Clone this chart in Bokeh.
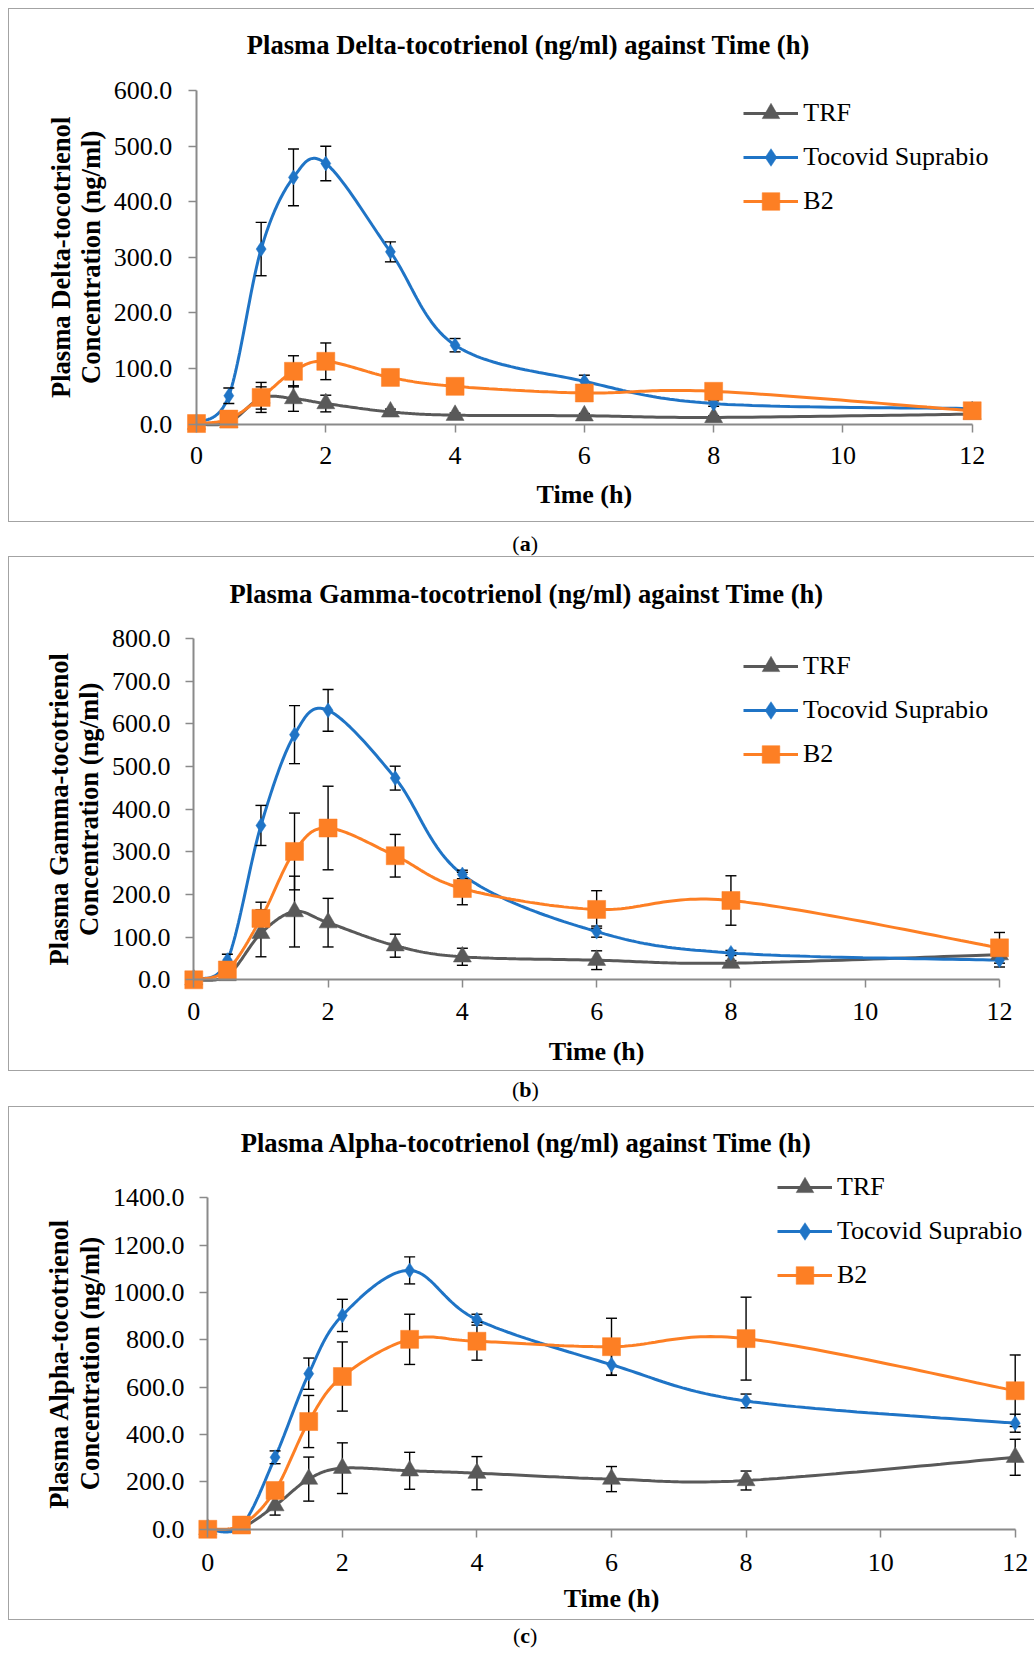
import numpy as np
from bokeh.plotting import figure
from bokeh.models import (ColumnDataSource, FixedTicker, Legend, LegendItem, Range1d, LinearAxis, Spacer)
from bokeh.core.properties import value
from bokeh.layouts import column, row
from bokeh.embed import file_html
from bokeh.resources import INLINE

# ---------------- data ----------------
times = [0, 0.5, 1, 1.5, 2, 3, 4, 6, 8, 12]
series_names = ["TRF", "Tocovid Suprabio", "B2"]
x_ticks = [0, 2, 4, 6, 8, 10, 12]
x_tick_labels = ["0", "2", "4", "6", "8", "10", "12"]

# (a) Delta-tocotrienol
delta_trf = [0, 3, 47, 46, 37, 22, 16, 15, 12, 18]
delta_trf_err = [0, 2, 20, 23, 15, 5, 4, 4, 3, 3]
delta_toco = [2, 51, 315, 444, 469, 310, 142, 77, 37, 28]
delta_toco_err = [0, 14, 48, 51, 31, 18, 12, 11, 5, 4]
delta_b2 = [1, 9, 48, 95, 113, 84, 68, 56, 59, 24]
delta_b2_err = [0, 5, 27, 28, 33, 6, 6, 6, 8, 5]
delta_yticks = [0, 100, 200, 300, 400, 500, 600]
delta_ytick_labels = ["0.0", "100.0", "200.0", "300.0", "400.0", "500.0", "600.0"]

# (b) Gamma-tocotrienol
gamma_trf = [0, 10, 109, 160, 134, 80, 54, 46, 39, 59]
gamma_trf_err = [0, 5, 55, 83, 57, 27, 20, 22, 6, 8]
gamma_toco = [2, 46, 362, 575, 632, 473, 247, 113, 63, 46]
gamma_toco_err = [0, 14, 47, 68, 49, 28, 10, 13, 6, 16]
gamma_b2 = [0, 23, 144, 301, 356, 291, 214, 165, 186, 75]
gamma_b2_err = [0, 8, 38, 90, 98, 50, 38, 44, 58, 36]
gamma_yticks = [0, 100, 200, 300, 400, 500, 600, 700, 800]
gamma_ytick_labels = ["0.0", "100.0", "200.0", "300.0", "400.0", "500.0", "600.0", "700.0", "800.0"]

# (c) Alpha-tocotrienol
alpha_trf = [0, 8, 100, 212, 258, 247, 237, 212, 206, 304]
alpha_trf_err = [0, 5, 40, 93, 107, 78, 70, 53, 40, 76]
alpha_toco = [0, 15, 304, 657, 903, 1093, 885, 695, 542, 448]
alpha_toco_err = [0, 5, 27, 66, 68, 57, 23, 45, 29, 38]
alpha_b2 = [0, 18, 164, 455, 645, 802, 794, 771, 805, 585]
alpha_b2_err = [0, 8, 15, 110, 146, 106, 80, 120, 175, 151]
alpha_yticks = [0, 200, 400, 600, 800, 1000, 1200, 1400]
alpha_ytick_labels = ["0.0", "200.0", "400.0", "600.0", "800.0", "1000.0", "1200.0", "1400.0"]

# ---------------- style ----------------
FONT = "Liberation Serif"
COLORS = ["#595959", "#1f74c6", "#fd7f24"]
MARKERS = [("triangle", 18), ("diamond", 15), ("square", 18)]
AXIS_COLOR = "#8a8a8a"
BOX_COLOR = "#a3a3a3"
ORIGIN_X, ORIGIN_Y = 8, 8      # content offset on the page (spacers)
FIG_W = 1026
TOP_PAD, RIGHT_PAD = 4, 4


def smooth(xs, ys, n=30):
    """Excel-like smoothed line: Catmull-Rom Bezier through the data points."""
    P = np.column_stack([xs, ys]).astype(float)
    m = len(P)
    ox, oy = [P[0, 0]], [P[0, 1]]
    t = np.linspace(0, 1, n + 1)[1:, None]
    for i in range(m - 1):
        p0 = P[i - 1] if i > 0 else P[i]
        p1, p2 = P[i], P[i + 1]
        p3 = P[i + 2] if i + 2 < m else P[i + 1]
        c1 = p1 + (p2 - p0) / 6.0
        c2 = p2 - (p3 - p1) / 6.0
        b = (1 - t) ** 3 * p1 + 3 * (1 - t) ** 2 * t * c1 + 3 * (1 - t) * t ** 2 * c2 + t ** 3 * p2
        ox.extend(b[:, 0])
        oy.extend(b[:, 1])
    return ox, oy


def txt(p, x, y, text, size="26px", bold=False, align="center", baseline="middle",
        xo=0, yo=0, angle=0):
    p.text(x=x, y=y, text=text, x_offset=xo, y_offset=yo, angle=angle,
           text_font=value(FONT), text_font_size=value(size),
           text_font_style=value("bold" if bold else "normal"),
           text_color="black", text_align=align, text_baseline=baseline)


def make_panel(title, ylabel_lines, yticks, ytick_labels, values, errors, g):
    ymax = yticks[-1]
    fig_top, fig_h = g["fig_top"], g["fig_h"]
    L = ORIGIN_X
    R = ORIGIN_X + FIG_W - RIGHT_PAD
    T = fig_top + TOP_PAD
    B = fig_top + fig_h
    xppu = (g["x12"] - g["x0"]) / 12.0
    yppu = (g["y0"] - g["ytop"]) / float(ymax)
    x_range = Range1d(-(g["x0"] - L) / xppu, 12 + (R - g["x12"]) / xppu)
    y_range = Range1d(-(B - g["y0"]) / yppu, ymax + (g["ytop"] - T) / yppu)

    p = figure(width=FIG_W, height=fig_h, x_range=x_range, y_range=y_range,
               output_backend="svg", toolbar_location=None,
               x_axis_location=None, y_axis_location=None,
               min_border_left=0, min_border_bottom=0,
               min_border_top=TOP_PAD, min_border_right=RIGHT_PAD,
               background_fill_color=None, border_fill_color=None,
               styles={"box-shadow": (f"inset 1px 0 0 {BOX_COLOR}, inset 0 1px 0 {BOX_COLOR}, "
                                      f"inset 0 -1px 0 {BOX_COLOR}")})
    p.outline_line_color = None
    p.xgrid.grid_line_color = None
    p.ygrid.grid_line_color = None

    # axes drawn at the data origin; ticks pointing outward from the plot
    xaxis = LinearAxis(ticker=FixedTicker(ticks=x_ticks), bounds=(0, 12), fixed_location=0)
    yaxis = LinearAxis(ticker=FixedTicker(ticks=yticks), bounds=(0, ymax), fixed_location=0)
    for ax in (xaxis, yaxis):
        ax.axis_line_color = AXIS_COLOR
        ax.axis_line_width = 2
        ax.major_tick_line_color = AXIS_COLOR
        ax.major_tick_line_width = 1.5
        ax.major_tick_in = 8
        ax.major_tick_out = 0
        ax.minor_tick_line_color = None
        ax.major_label_text_font_size = "0px"
        ax.major_label_text_alpha = 0
        ax.major_label_standoff = 0
    p.add_layout(xaxis, "above")
    p.add_layout(yaxis, "right")

    # tick labels, axis titles and chart title
    txt(p, x_ticks, [0] * len(x_ticks), x_tick_labels, yo=g["xtick_dy"])
    txt(p, [0] * len(yticks), yticks, ytick_labels, align="right", xo=g["ytick_dx"])
    txt(p, [0, 0], [ymax / 2.0] * 2, ylabel_lines, size="26.6px", bold=True,
        xo=g["ytitle_dx"], angle=np.pi / 2)
    txt(p, [6], [0], ["Time (h)"], bold=True, yo=g["xtitle_dy"])
    txt(p, [0], [ymax], [title], size="26.6px", bold=True, xo=g["title_dx"], yo=g["title_dy"])

    line_rs, marker_rs = [], []
    for k in range(3):
        sx, sy = smooth(times, values[k])
        line_rs.append(p.line(sx, sy, line_color=COLORS[k], line_width=3))
    for k in range(3):
        keep = [i for i, e in enumerate(errors[k]) if e > 0]
        src = ColumnDataSource(dict(x=[times[i] for i in keep],
                                    lo=[values[k][i] - errors[k][i] for i in keep],
                                    hi=[values[k][i] + errors[k][i] for i in keep]))
        p.segment(x0="x", y0="lo", x1="x", y1="hi", source=src, line_color="black", line_width=1.4)
        p.scatter(x="x", y="lo", source=src, marker="dash", size=11, line_color="black", line_width=1.4)
        p.scatter(x="x", y="hi", source=src, marker="dash", size=11, line_color="black", line_width=1.4)
    for k in range(3):
        mk, sz = MARKERS[k]
        marker_rs.append(p.scatter(times, values[k], marker=mk, size=sz,
                                   fill_color=COLORS[k], line_color=COLORS[k], line_width=0.5))

    lx = g["legend_left"] - L
    ly = B - (g["legend_mid"] + 66)
    legend = Legend(items=[LegendItem(label=series_names[k], renderers=[line_rs[k], marker_rs[k]])
                           for k in range(3)],
                    location=(lx, ly), orientation="vertical",
                    glyph_width=55, glyph_height=44, label_height=44, label_width=10,
                    spacing=0, padding=0, margin=0, label_standoff=5,
                    border_line_color=None, background_fill_alpha=0,
                    label_text_font=FONT, label_text_font_size="26px", label_text_color="black")
    p.add_layout(legend)
    return p


BOLD_W = {"a": 500, "b": 556, "c": 444}


def make_caption(letter, h, cx_page, cy_page, top_page):
    c = figure(width=FIG_W, height=h, x_range=Range1d(0, FIG_W), y_range=Range1d(0, h),
               output_backend="svg", toolbar_location=None,
               x_axis_location=None, y_axis_location=None, min_border=0,
               background_fill_color=None, border_fill_color=None)
    c.outline_line_color = None
    c.xgrid.grid_line_color = None
    c.ygrid.grid_line_color = None
    cx = cx_page - ORIGIN_X
    cy = h - (cy_page - top_page)
    half = BOLD_W[letter] * 22 / 2000.0
    txt(c, [cx], [cy], [letter], size="22px", bold=True)
    txt(c, [cx - half], [cy], ["("], size="22px", align="right")
    txt(c, [cx + half], [cy], [")"], size="22px", align="left")
    return c


geo_a = dict(x0=196, x12=971.7, y0=423.6, ytop=90.2, fig_top=8, fig_h=514,
             xtick_dy=30.9, ytick_dx=-24.3, ytitle_dx=[-136, -106], xtitle_dy=70.4,
             title_dx=331.8, title_dy=-45.4, legend_left=743.3, legend_mid=157.1)
geo_b = dict(x0=193.3, x12=999, y0=979.3, ytop=638.2, fig_top=556, fig_h=515,
             xtick_dy=32.1, ytick_dx=-23.3, ytitle_dx=[-135.3, -105.3], xtitle_dy=71.4,
             title_dx=332.8, title_dy=-44.6, legend_left=743, legend_mid=710.2)
geo_c = dict(x0=207.3, x12=1014.7, y0=1528.8, ytop=1197.2, fig_top=1106, fig_h=514,
             xtick_dy=32.9, ytick_dx=-23.4, ytitle_dx=[-149.3, -118.3], xtitle_dy=69.5,
             title_dx=318.9, title_dy=-55, legend_left=777, legend_mid=1230.7)

pa = make_panel("Plasma Delta-tocotrienol (ng/ml) against Time (h)",
                ["Plasma Delta-tocotrienol", "Concentration (ng/ml)"],
                delta_yticks, delta_ytick_labels,
                [delta_trf, delta_toco, delta_b2], [delta_trf_err, delta_toco_err, delta_b2_err], geo_a)
pb = make_panel("Plasma Gamma-tocotrienol (ng/ml) against Time (h)",
                ["Plasma Gamma-tocotrienol", "Concentration (ng/ml)"],
                gamma_yticks, gamma_ytick_labels,
                [gamma_trf, gamma_toco, gamma_b2], [gamma_trf_err, gamma_toco_err, gamma_b2_err], geo_b)
pc = make_panel("Plasma Alpha-tocotrienol (ng/ml) against Time (h)",
                ["Plasma Alpha-tocotrienol", "Concentration (ng/ml)"],
                alpha_yticks, alpha_ytick_labels,
                [alpha_trf, alpha_toco, alpha_b2], [alpha_trf_err, alpha_toco_err, alpha_b2_err], geo_c)

ca = make_caption("a", 34, 526.7, 543.3, 522)
cb = make_caption("b", 35, 527, 1089, 1071)
cc = make_caption("c", 30, 526.7, 1635, 1620)

content = column(Spacer(width=FIG_W, height=ORIGIN_Y), pa, ca, pb, cb, pc, cc, spacing=0)
layout = row(Spacer(width=ORIGIN_X, height=10), content, spacing=0)

open("out.html", "w").write(file_html(layout, INLINE))
